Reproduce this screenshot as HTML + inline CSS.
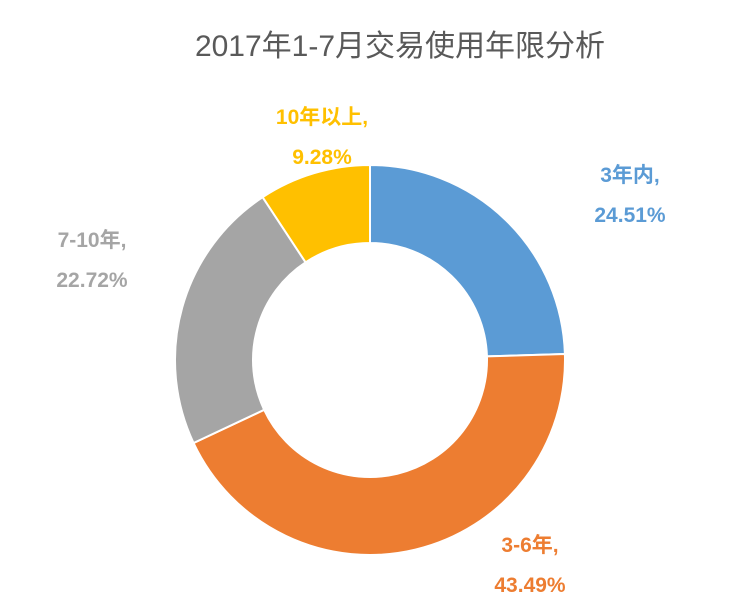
<!DOCTYPE html>
<html><head><meta charset="utf-8"><style>
body{margin:0;background:#fff;}
svg{display:block;font-family:"Liberation Sans","Noto Sans CJK SC",sans-serif;}
.lbl{font-weight:bold;font-size:21px;text-anchor:middle;}
</style></head><body>
<svg width="752" height="609">
<text x="400" y="56" font-size="30" fill="#595959" text-anchor="middle">2017年1-7月交易使用年限分析</text>
<g id="slices"></g>
<g id="labels"></g>
</svg>
<script>
const categories=["3年内","3-6年","7-10年","10年以上"];
const values=[24.51,43.49,22.72,9.28];
const colors=["#5B9BD5","#ED7D31","#A5A5A5","#FFC000"];
const labelPos=[[630,182],[530,552],[92,247],[322,124]];
const cx=370,cy=360,R=195,r=117;
const total=values.reduce((a,b)=>a+b,0);
const g=document.getElementById('slices'),lg=document.getElementById('labels');
const NS="http://www.w3.org/2000/svg";
let a0=0;
function pt(a,rad){return [cx+rad*Math.sin(a),cy-rad*Math.cos(a)];}
values.forEach((v,i)=>{
 const a1=a0+v/total*2*Math.PI;
 const large=(a1-a0)>Math.PI?1:0;
 const p1=pt(a0,R),p2=pt(a1,R),p3=pt(a1,r),p4=pt(a0,r);
 const p=document.createElementNS(NS,'path');
 p.setAttribute('d',`M${p1}A${R},${R} 0 ${large} 1 ${p2}L${p3}A${r},${r} 0 ${large} 0 ${p4}Z`);
 p.setAttribute('fill',colors[i]);p.setAttribute('stroke','#fff');p.setAttribute('stroke-width','2');
 
 
 g.appendChild(p);
 const t=document.createElementNS(NS,'text');
 t.setAttribute('class','lbl');t.setAttribute('fill',colors[i]);
 t.setAttribute('x',labelPos[i][0]);t.setAttribute('y',labelPos[i][1]);
 
 
 const s1=document.createElementNS(NS,'tspan');s1.setAttribute('x',labelPos[i][0]);s1.textContent=categories[i]+',';
 const s2=document.createElementNS(NS,'tspan');s2.setAttribute('x',labelPos[i][0]);s2.setAttribute('dy','40');s2.textContent=v.toFixed(2)+'%';
 t.appendChild(s1);t.appendChild(s2);lg.appendChild(t);
 a0=a1;
});
</script>
</body></html>
